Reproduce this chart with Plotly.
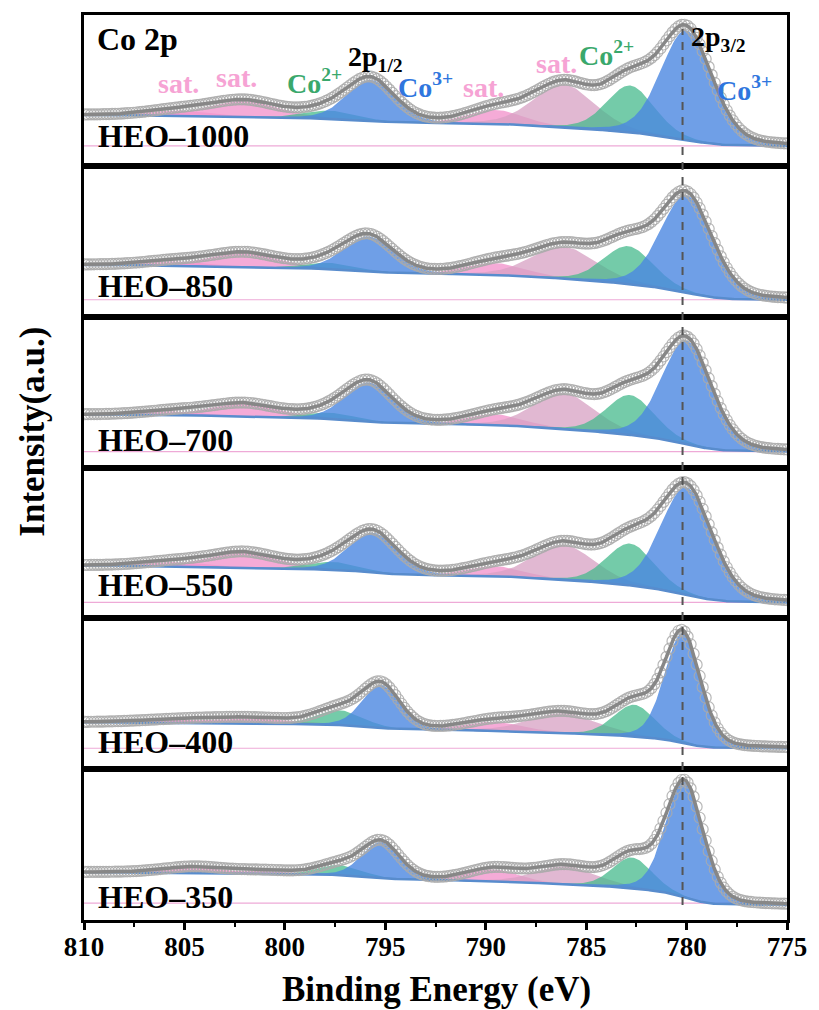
import numpy as np
import plotly.graph_objects as go
from plotly.subplots import make_subplots

# ---- Co 2p XPS fits of the HEO series (top to bottom) ----
samples = ["HEO–1000", "HEO–850", "HEO–700", "HEO–550", "HEO–400", "HEO–350"]

# fitted components, same order for every sample:
# sat., sat., Co2+ 2p1/2, Co3+ 2p1/2, sat., sat., Co2+ 2p3/2, Co3+ 2p3/2
component_kind = ["sat", "sat", "co2", "co3", "sat", "sat2", "co2", "co3"]

peak_center = [
    [805.3, 802.0, 797.8, 795.7, 789.5, 786.1, 782.8, 780.0],
    [805.5, 802.0, 797.8, 795.8, 789.5, 786.1, 782.9, 780.0],
    [805.5, 802.0, 797.8, 795.8, 789.5, 786.1, 782.8, 780.0],
    [805.5, 802.0, 797.6, 795.6, 789.5, 786.1, 782.8, 780.0],
    [805.0, 801.5, 797.3, 795.2, 789.6, 786.1, 782.6, 780.2],
    [804.5, 801.0, 797.3, 795.2, 789.6, 786.0, 782.7, 780.1],
]
peak_fwhm = [
    [3.5, 4.0, 3.0, 2.8, 3.2, 3.6, 2.8, 3.0],
    [3.5, 4.0, 3.0, 2.9, 3.4, 3.8, 2.9, 3.0],
    [3.5, 4.0, 3.0, 2.8, 3.2, 3.6, 2.8, 2.9],
    [3.5, 4.0, 3.0, 2.8, 3.2, 3.6, 2.8, 3.0],
    [5.0, 5.0, 2.6, 2.2, 3.4, 4.0, 2.4, 2.1],
    [3.5, 3.5, 2.4, 2.2, 3.0, 3.6, 2.3, 2.2],
]
peak_height = [
    [5, 16, 8, 41, 14, 43, 47, 110],
    [4, 14, 6, 35, 12, 32, 38, 98],
    [4, 13, 6, 39, 11, 36, 40, 104],
    [4, 15, 8, 40, 10, 35, 42, 108],
    [3, 5, 15, 43, 9, 20, 32, 110],
    [6, 3, 10, 36, 12, 18, 31, 116],
]
# Shirley background end levels (low BE side at 775 eV, high BE side at 810 eV)
bg_low = [20, 17, 16, 16, 21, 15]
bg_high = [51, 52, 53, 53, 47, 48]
# horizontal reference level of each stacked spectrum
ref_level = [20, 17, 16, 16, 21, 17]
# vertical position of each sample name
name_level = [30, 31, 28, 33, 27, 23]

# peak annotations of the top panel
label_text = ["sat.", "sat.", "Co<sup>2+</sup>", "2p<sub>1/2</sub>", "Co<sup>3+</sup>",
              "sat.", "sat.", "Co<sup>2+</sup>", "2p<sub>3/2</sub>", "Co<sup>3+</sup>"]
label_be = [805.3, 802.4, 798.5, 795.5, 793.0, 790.1, 786.5, 784.0, 778.4, 777.1]
label_int = [83, 89, 85, 108, 81, 79, 103, 113, 128, 78]
label_kind = ["sat", "sat", "co2", "peak", "co3", "sat", "sat", "co2", "peak", "co3"]

co3_position = 780.2          # dashed marker of the Co3+ 2p3/2 maximum
x_ticks = [810, 805, 800, 795, 790, 785, 780, 775]

# ---- styling ----
FONT = "Liberation Serif"
fill_colour = {
    "co3": "rgba(75,135,225,0.80)",
    "co2": "rgba(70,185,140,0.75)",
    "sat": "rgba(242,150,205,0.80)",
    "sat2": "rgba(215,160,195,0.75)",
}
text_colour = {"co3": "#2f76de", "co2": "#3aa86c", "sat": "#f6a3d4", "peak": "#000000"}

energy = np.arange(775.0, 810.0001, 0.05)


def pseudo_voigt(x, c, w, h, eta=0.2):
    g = np.exp(-4 * np.log(2) * ((x - c) / w) ** 2)
    l = 1.0 / (1.0 + 4 * ((x - c) / w) ** 2)
    return h * ((1 - eta) * g + eta * l)


def shirley(x, signal, low, high):
    cum = np.cumsum(signal) * (x[1] - x[0])
    return low + (high - low) * cum / cum[-1]


n = len(samples)
fig = make_subplots(rows=n, cols=1, shared_xaxes=True, vertical_spacing=0)

for i in range(n):
    row = i + 1
    suffix = str(row) if row > 1 else ""
    comps = [pseudo_voigt(energy, c, w, h)
             for c, w, h in zip(peak_center[i], peak_fwhm[i], peak_height[i])]
    total = np.sum(comps, axis=0)
    bg = shirley(energy, total, bg_low[i], bg_high[i])
    envelope = bg + total

    # reference line
    fig.add_trace(go.Scatter(x=[810, 775], y=[ref_level[i], ref_level[i]], mode="lines",
                             line=dict(color="rgb(238,170,215)", width=1.2),
                             hoverinfo="skip"), row=row, col=1)
    # filled components above the background
    for comp, kind in zip(comps, component_kind):
        fig.add_trace(go.Scatter(
            x=np.concatenate([energy, energy[::-1]]),
            y=np.concatenate([bg + comp, bg[::-1]]),
            mode="lines", fill="toself", fillcolor=fill_colour[kind],
            line=dict(width=0), hoverinfo="skip"), row=row, col=1)
    # background
    fig.add_trace(go.Scatter(x=energy, y=bg, mode="lines",
                             line=dict(color="rgb(88,140,205)", width=2.5)),
                  row=row, col=1)
    # measured points
    fig.add_trace(go.Scatter(x=energy[::3], y=envelope[::3], mode="markers",
                             marker=dict(symbol="circle-open", size=11,
                                         color="rgba(170,170,170,0.85)",
                                         line=dict(width=1.2))),
                  row=row, col=1)
    # fitted envelope
    fig.add_trace(go.Scatter(x=energy, y=envelope, mode="lines",
                             line=dict(color="rgb(135,135,135)", width=3.5)),
                  row=row, col=1)

    fig.add_annotation(x=809.4, y=name_level[i], xref="x" + suffix, yref="y" + suffix,
                       text=f"<b>{samples[i]}</b>",
                       showarrow=False, xanchor="left", yanchor="middle",
                       font=dict(family=FONT, size=32, color="black"))

# labels of the top panel
fig.add_annotation(x=809.45, y=127, xref="x", yref="y", text="<b>Co 2p</b>",
                   showarrow=False, xanchor="left", yanchor="middle",
                   font=dict(family=FONT, size=32, color="black"))
for t, xb, yi, k in zip(label_text, label_be, label_int, label_kind):
    fig.add_annotation(x=xb, y=yi, xref="x", yref="y", text=f"<b>{t}</b>",
                       showarrow=False, xanchor="center", yanchor="middle",
                       font=dict(family=FONT, size=28, color=text_colour[k]))

# dashed marker through all panels
fig.add_shape(type="line", xref="x", yref="paper", x0=co3_position, x1=co3_position,
              y0=0.0165, y1=0.9846, line=dict(color="#555555", width=2, dash="8px,7px"))

for i in range(n):
    row = i + 1
    fig.update_yaxes(range=[0, 151.5], showticklabels=False, ticks="", showgrid=False,
                     zeroline=False, showline=True, mirror=True, linecolor="black",
                     linewidth=3, row=row, col=1)
    fig.update_xaxes(range=[810, 775], showgrid=False, zeroline=False, showline=True,
                     mirror=True, linecolor="black", linewidth=3, row=row, col=1,
                     showticklabels=(row == n), ticks="outside" if row == n else "")

fig.update_xaxes(tickvals=x_ticks, ticklen=7, tickwidth=2.5, tickcolor="black",
                 ticklabelstandoff=-6,
                 tickfont=dict(family=FONT, size=27, color="black", weight="bold"),
                 minor=dict(dtick=2.5, tick0=775, ticklen=4, tickwidth=2, ticks="outside",
                            tickcolor="black"),
                 row=n, col=1)

fig.add_annotation(x=0.501, y=-0.0772, xref="paper", yref="paper",
                   xanchor="center", yanchor="middle",
                   text="<b>Binding Energy (eV)</b>", showarrow=False,
                   font=dict(family=FONT, size=35, color="black"))
fig.add_annotation(x=-0.0734, y=0.540, xref="paper", yref="paper", textangle=-90,
                   xanchor="center", yanchor="middle",
                   text="<b>Intensity(a.u.)</b>", showarrow=False,
                   font=dict(family=FONT, size=35, color="black"))

fig.update_layout(width=819, height=1010, margin=dict(l=84, r=27, t=13, b=90),
                  plot_bgcolor="white", paper_bgcolor="white", showlegend=False)

fig.write_html("out.html")
